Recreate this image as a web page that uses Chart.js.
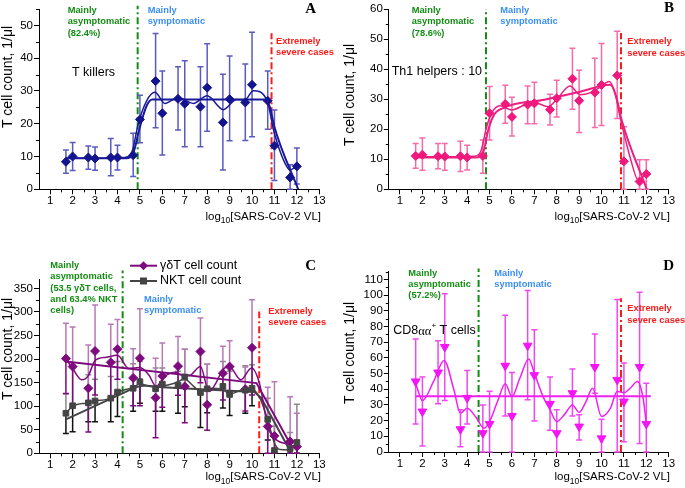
<!DOCTYPE html>
<html>
<head>
<meta charset="utf-8">
<script src="https://cdn.jsdelivr.net/npm/chart.js@4.4.1/dist/chart.umd.min.js"></script>
<style>
body { margin: 0; background: #fff; width: 685px; height: 488px; position: relative; overflow: hidden; }
canvas { position: absolute; }
</style>
</head>
<body>
<canvas id="cA" width="340" height="240" style="left:0;top:0"></canvas>
<canvas id="cB" width="345" height="240" style="left:340px;top:0"></canvas>
<canvas id="cC" width="340" height="248" style="left:0;top:240px"></canvas>
<canvas id="cD" width="345" height="248" style="left:340px;top:240px"></canvas>
<script>
// log10 viral load groups, same for all four panels
var vl = [1.7, 2, 2.7, 3, 3.7, 4, 4.7, 5, 5.7, 6, 6.7, 7, 7.7, 8, 8.7, 9, 9.7, 10, 10.7, 11, 11.7, 12];
var xTicks = [1, 2, 3, 4, 5, 6, 7, 8, 9, 10, 11, 12, 13];

// A - T killers
var killerMean = [8.4, 10.0, 9.7, 9.4, 9.7, 9.7, 10.4, 21.3, 33.0, 23.2, 27.6, 26.1, 25.2, 31.0, 20.4, 27.5, 26.5, 31.9, 27.0, 13.3, 3.6, 7.0];
var killerHi = [12.0, 14.3, 13.2, 12.9, 15.5, 13.4, 17.1, 28.7, 47.5, 36.1, 37.4, 39.2, 37.4, 44.4, 35.1, 40.7, 38.2, 47.9, 36.1, 24.2, 7.5, 12.6];
var killerLo = [4.9, 5.7, 6.1, 5.8, 4.1, 5.9, 3.9, 14.2, 18.8, 10.5, 18.1, 13.0, 13.0, 17.7, 5.9, 14.8, 14.9, 16.0, 18.3, 2.7, 0, 1.6];
var killerSplineX = [1.7, 2.5, 3.5, 4.3, 4.65, 4.93, 5.3, 5.67, 6.12, 6.71, 7.38, 8.0, 8.72, 9.31, 9.68, 10.05, 10.65, 11.0, 11.4, 11.69, 12.0];
var killerSplineY = [9.5, 9.5, 9.5, 9.7, 11.5, 20.1, 27, 29.6, 26.2, 28.0, 26.2, 28.5, 24.3, 27.4, 27.2, 30.1, 27.4, 17, 9, 5.9, 7.1];
var killerFitX = [1.7, 4.4, 4.7, 5.0, 5.3, 5.55, 10.6, 10.8, 11.0, 12.06];
var killerFitY = [9.5, 9.5, 11, 19, 25.5, 27.4, 27.4, 25, 19, 0];
var killerTicksY = [0, 10, 20, 30, 40, 50];

// B - Th1 helpers
var th1Mean = [11.1, 11.5, 11.0, 10.9, 11.0, 10.6, 11.1, 25.3, 28.4, 24.1, 28.2, 28.6, 26.5, 30.3, 36.8, 29.5, 32.2, 34.7, 37.9, 9.3, 2.6, 5.1];
var th1Hi = [15.2, 17.1, 15.2, 15.2, 16.0, 14.7, 16.4, 34.2, 34.6, 30.6, 34.4, 35.6, 31.6, 36.3, 46.9, 39.6, 43.6, 48.5, 52.6, 20.8, 9.8, 9.8];
var th1Lo = [7.0, 6.3, 6.8, 6.3, 5.9, 6.4, 5.3, 16.4, 22.0, 17.7, 21.8, 21.8, 21.4, 24.1, 26.6, 18.9, 20.6, 21.2, 23.6, 0, 0, 0];
var th1SplineX = [1.7, 2.5, 3.5, 4.3, 4.6, 4.87, 5.1, 5.47, 5.99, 6.66, 7.03, 7.62, 8.07, 8.59, 9.04, 9.49, 9.86, 10.35, 10.6, 10.86, 11.3, 11.64, 11.94];
var th1SplineY = [10.8, 10.8, 10.8, 11.0, 12.5, 20.8, 25.5, 27.8, 26.4, 28.4, 28.8, 27.5, 30.6, 34.4, 31.5, 32.1, 33.6, 35.9, 32, 23, 10, 3.1, 4.8];
var th1FitX = [1.7, 4.4, 4.7, 4.95, 5.2, 5.45, 7.5, 9.0, 10.4, 10.65, 10.9, 12.02];
var th1FitY = [10.6, 10.6, 12, 20, 24.8, 26.5, 29.9, 32.4, 34.8, 31, 23, 0];
var th1TicksY = [0, 10, 20, 30, 40, 50, 60];

// C - gamma-delta T and NKT cells
var gdMean = [201, 184, 138, 217, 193, 221, 160, 202, 118, 164, 185, 142, 216, 103, 170, 184, 136, 224, 57, 37, 25, 14];
var gdHi = [276, 268, 230, 315, 274, 284, 222, 307, 202, 234, 248, 221, 287, 189, 227, 239, 183, 326, 140, 152, 120, 85];
var gdLo = [127, 99, 45, 124, 117, 157, 101, 101, 33, 98, 123, 65, 150, 49, 113, 126, 90, 124, 0, 0, 0, 0];
var nktMean = [85, 101, 107, 111, 117, 130, 138, 152, 137, 147, 145, 162, 129, 137, 142, 125, 134, 138, 72, 6, 10, 23];
var nktHi = [126, 181, 167, 157, 163, 195, 190, 195, 181, 181, 174, 221, 215, 189, 195, 174, 186, 188, 117, 58, 44, 104];
var nktLo = [42, 46, 67, 67, 67, 78, 89, 106, 89, 89, 85, 99, 55, 86, 96, 80, 85, 101, 28, 0, 0, 0];
var gdSplineX = [1.7, 2.0, 2.4, 2.7, 3.0, 3.5, 4.0, 4.5, 5.0, 5.4, 5.72, 6.1, 6.6, 6.8, 7.2, 7.7, 8.08, 8.4, 8.69, 8.98, 9.5, 9.98, 10.35, 10.7, 11.1, 11.7, 11.8];
var gdSplineY = [200, 180, 156, 165, 197, 204, 208, 180, 182, 166, 142, 163, 172, 167, 165, 184, 131, 150, 177, 184, 156, 181, 145, 57, 28, 18, 14];
var nktSplineX = [1.7, 2.0, 2.7, 3.0, 3.7, 4.0, 4.7, 5.0, 5.5, 6.0, 6.5, 7.0, 7.4, 7.7, 8.1, 8.7, 9.0, 9.7, 10.0, 10.35, 10.68, 11.0, 11.25, 11.7];
var nktSplineY = [85, 100, 107, 111, 117, 129, 140, 147, 142, 143, 148, 157, 142, 131, 138, 135, 126, 136, 136, 117, 74, 22, 8, 7];
var gdFitX = [1.7, 10.2, 11.8];
var gdFitY = [195, 149, 12];
var nktFitX = [1.7, 4.8, 5.2, 6.0, 10.1, 10.4, 11.7];
var nktFitY = [72, 140, 144, 140, 130, 118, 5];
var cTicksY = [0, 50, 100, 150, 200, 250, 300, 350];

// D - CD8aa+ T cells
var cd8Mean = [45, 25.8, 50.7, 67, 14.5, 34.5, 12, 17.9, 55, 23, 67.8, 49, 30.7, 12, 37.5, 16.2, 54.2, 8.7, 46, 32.2, 54.2, 17.9];
var cd8Hi = [72, 47.8, 71, 101, 27, 52, 29.9, 38.8, 87.2, 50.7, 103, 78, 47.8, 26.9, 52.9, 23.7, 75.3, 20.9, 97.2, 56.7, 101.9, 43.9];
var cd8Lo = [17.9, 3.8, 30.7, 32.8, 3.4, 17.9, 0, 0, 23, 0, 33.3, 19.8, 13.9, 0, 23, 7.7, 37.5, 0, 0, 6.6, 5.5, 0];
var cd8SplineX = [1.7, 2.0, 2.5, 2.97, 3.4, 3.7, 4.0, 4.4, 4.75, 5.0, 5.35, 5.7, 6.0, 6.35, 6.75, 7.0, 7.4, 7.7, 8.0, 8.35, 8.7, 9.0, 9.3, 9.6, 10.0, 10.4, 10.7, 11.0, 11.3, 11.6, 11.85, 12.0];
var cd8SplineY = [43.9, 32.8, 45, 58.4, 40, 24.7, 27.9, 22, 15.1, 19.4, 32, 43.5, 35.4, 47, 59.3, 50.3, 35, 26.9, 19.4, 24, 30, 25.2, 32, 40.7, 22.6, 28, 38.6, 37.9, 41, 45, 35, 18.3];
var cd8FitX = [1.7, 12.2];
var cd8FitY = [35.6, 35.6];
var dTicksY = [0, 10, 20, 30, 40, 50, 60, 70, 80, 90, 100, 110];

var SANS = "'Liberation Sans', Arial, sans-serif";
var GREEN = '#138c13', BLUE = '#3a8ef5', RED = '#ff1a1a';

function pts(xs, ys) {
	return xs.map(function(x, i) { return {x: x, y: ys[i]}; });
}

function markers(ys, hi, lo, color, errHi, errLo, style, r, rot) {
	return {
		data: pts(vl, ys), hi: hi, lo: lo, errHi: errHi, errLo: errLo,
		pointStyle: style, pointRadius: r, pointRotation: rot || 0,
		backgroundColor: color, borderColor: color, borderWidth: 1, showLine: false
	};
}

function curve(xs, ys, color, w, straight) {
	return {
		data: pts(xs, ys), showLine: true, pointRadius: 0, borderColor: color,
		borderWidth: w, fill: false,
		tension: straight ? 0 : 0.4, cubicInterpolationMode: straight ? 'default' : 'monotone'
	};
}

function panelPlugin(cfg) {
	return {
		id: 'panel_' + cfg.id,
		beforeDatasetsDraw: function(chart) {
			var ctx = chart.ctx, sx = chart.scales.x, sy = chart.scales.y;
			var a = chart.chartArea;
			ctx.save();
			// minor ticks
			ctx.strokeStyle = '#000';
			ctx.lineWidth = 1;
			ctx.beginPath();
			for (var i = 0; i < xTicks.length - 1; i++) {
				var mx = Math.round(sx.getPixelForValue((xTicks[i] + xTicks[i + 1]) / 2)) + 0.5;
				ctx.moveTo(mx, a.bottom); ctx.lineTo(mx, a.bottom + 3);
			}
			var yt = cfg.yTicks, st = yt[1] - yt[0];
			for (var j = 0; j < yt.length; j++) {
				var v = yt[j] + st / 2;
				if (v > cfg.yMax) break;
				var my = Math.round(sy.getPixelForValue(v)) + 0.5;
				ctx.moveTo(a.left, my); ctx.lineTo(a.left - 3, my);
			}
			ctx.stroke();
			// dash-dot separators
			cfg.vlines.forEach(function(l) {
				var x = sx.getPixelForValue(l.x);
				ctx.beginPath();
				ctx.setLineDash([7, 3, 2, 3]);
				ctx.strokeStyle = l.color;
				ctx.lineWidth = 2;
				ctx.moveTo(x, sy.getPixelForValue(0));
				ctx.lineTo(x, sy.getPixelForValue(l.top));
				ctx.stroke();
			});
			ctx.setLineDash([]);
			// error bars
			chart.data.datasets.forEach(function(ds) {
				if (!ds.hi) return;
				ctx.lineWidth = 1.5;
				ds.data.forEach(function(p, i) {
					var x = sx.getPixelForValue(p.x), yc = sy.getPixelForValue(p.y);
					var yh = sy.getPixelForValue(ds.hi[i]), yl = sy.getPixelForValue(ds.lo[i]);
					ctx.strokeStyle = ds.errHi;
					ctx.beginPath();
					ctx.moveTo(x, yc); ctx.lineTo(x, yh);
					ctx.moveTo(x - 3, yh); ctx.lineTo(x + 3, yh);
					ctx.stroke();
					ctx.strokeStyle = ds.errLo;
					ctx.beginPath();
					ctx.moveTo(x, yc); ctx.lineTo(x, yl);
					ctx.moveTo(x - 3, yl); ctx.lineTo(x + 3, yl);
					ctx.stroke();
				});
			});
			ctx.restore();
		},
		afterDraw: function(chart) {
			var ctx = chart.ctx;
			ctx.save();
			ctx.textBaseline = 'middle';
			cfg.texts.forEach(function(t) {
				ctx.font = t.font;
				ctx.fillStyle = t.color || '#000';
				ctx.textAlign = t.align || 'left';
				ctx.fillText(t.s, t.x, t.y);
			});
			// y title
			ctx.save();
			ctx.translate(cfg.yTitle.x, cfg.yTitle.y);
			ctx.rotate(-Math.PI / 2);
			ctx.textAlign = 'center';
			ctx.fillStyle = '#000';
			ctx.font = '14px ' + SANS;
			ctx.fillText('T cell count, 1/\u03bcl', 0, 0);
			ctx.restore();
			// x title with subscript
			ctx.textAlign = 'left';
			var big = '11.5px ' + SANS, small = '8.5px ' + SANS;
			ctx.font = big;
			var w1 = ctx.measureText('log').width, w3 = ctx.measureText('[SARS-CoV-2 VL]').width;
			ctx.font = small;
			var w2 = ctx.measureText('10').width;
			var x0 = cfg.xTitle.right - w1 - w2 - w3, y0 = cfg.xTitle.y;
			ctx.font = big; ctx.fillText('log', x0, y0);
			ctx.font = small; ctx.fillText('10', x0 + w1, y0 + 4);
			ctx.font = big; ctx.fillText('[SARS-CoV-2 VL]', x0 + w1 + w2, y0);
			// legend (panel C)
			(cfg.legend || []).forEach(function(g) {
				ctx.strokeStyle = g.color;
				ctx.lineWidth = 2;
				ctx.beginPath(); ctx.moveTo(g.x, g.y); ctx.lineTo(g.x + 27, g.y); ctx.stroke();
				ctx.fillStyle = g.color;
				var cx = g.x + 13.5;
				ctx.beginPath();
				if (g.style === 'rect') {
					ctx.rect(cx - 3.5, g.y - 3.5, 7, 7);
				} else {
					ctx.moveTo(cx, g.y - 4.5); ctx.lineTo(cx + 4.5, g.y); ctx.lineTo(cx, g.y + 4.5); ctx.lineTo(cx - 4.5, g.y);
					ctx.closePath();
				}
				ctx.fill();
				ctx.fillStyle = '#000';
				ctx.font = '12.5px ' + SANS;
				ctx.fillText(g.s, g.x + 30, g.y);
			});
			// CD8aa+ label (panel D)
			if (cfg.cd8) {
				var c = cfg.cd8, px = c.x;
				ctx.fillStyle = '#000';
				ctx.font = '12.5px ' + SANS; ctx.fillText('CD8', px, c.y); px += ctx.measureText('CD8').width;
				ctx.font = '12.5px "Liberation Serif", serif'; ctx.fillText('\u03b1\u03b1', px, c.y + 1); px += ctx.measureText('\u03b1\u03b1').width;
				ctx.font = '8px ' + SANS; ctx.fillText('+', px, c.y - 5); px += ctx.measureText('+').width;
				ctx.font = '12.5px ' + SANS; ctx.fillText(' T cells', px, c.y);
			}
			ctx.restore();
		}
	};
}

function makeChart(cfg) {
	var tickFont = {family: SANS, size: 11.5};
	return new Chart(document.getElementById(cfg.id), {
		type: 'scatter',
		data: {datasets: cfg.datasets},
		options: {
			responsive: false,
			animation: false,
			events: [],
			layout: {padding: {left: 0, top: cfg.area.top, right: cfg.area.right, bottom: 0}},
			plugins: {legend: {display: false}, tooltip: {enabled: false}},
			scales: {
				x: {
					type: 'linear', min: 0.5, max: 13,
					afterBuildTicks: function(s) { s.ticks = xTicks.map(function(v) { return {value: v}; }); },
					afterFit: function(s) { s.height = cfg.area.xh; },
					grid: {drawOnChartArea: false, tickLength: 5, color: '#000'},
					border: {color: '#000', width: 1},
					ticks: {color: '#000', font: tickFont, padding: 0, maxRotation: 0, autoSkip: false}
				},
				y: {
					type: 'linear', min: 0, max: cfg.yMax,
					afterBuildTicks: function(s) { s.ticks = cfg.yTicks.map(function(v) { return {value: v}; }); },
					afterFit: function(s) { s.width = cfg.area.yw; },
					grid: {drawOnChartArea: false, tickLength: 5, color: '#000'},
					border: {color: '#000', width: 1},
					ticks: {color: '#000', font: tickFont, padding: 1, autoSkip: false}
				}
			}
		},
		plugins: [panelPlugin(cfg)]
	});
}

function notes(g, b, r, fontSize) {
	var f = 'bold ' + fontSize + 'px ' + SANS, out = [];
	g.lines.forEach(function(s, i) { out.push({s: s, x: g.x, y: g.y + i * g.dy, font: f, color: GREEN}); });
	b.lines.forEach(function(s, i) { out.push({s: s, x: b.x, y: b.y + i * b.dy, font: f, color: BLUE}); });
	r.lines.forEach(function(s, i) { out.push({s: s, x: r.x, y: r.y + i * r.dy, font: f, color: RED}); });
	return out;
}

var LETTER = 'bold 15px "Liberation Serif", "Times New Roman", serif';

makeChart({
	id: 'cA', yMax: 55, yTicks: killerTicksY,
	area: {top: 9, right: 20.7, yw: 39, xh: 50.7},
	datasets: [
		markers(killerMean, killerHi, killerLo, '#14148f', '#5a5abf', '#5a5abf', 'rectRot', 4.5),
		curve(killerSplineX, killerSplineY, '#1a1a99', 1.5),
		curve(killerFitX, killerFitY, '#1a1a99', 2)
	],
	vlines: [{x: 4.9, top: 56, color: GREEN}, {x: 10.87, top: 47.6, color: RED}],
	texts: notes(
		{x: 67.7, y: 10, dy: 11.7, lines: ['Mainly', 'asymptomatic', '(82.4%)']},
		{x: 147.7, y: 10, dy: 11.7, lines: ['Mainly', 'symptomatic']},
		{x: 276, y: 41.7, dy: 11, lines: ['Extremely', 'severe cases']}, 9.3
	).concat([
		{s: 'T killers', x: 72, y: 73, font: '12.5px ' + SANS},
		{s: 'A', x: 316, y: 9, font: LETTER, align: 'right'}
	]),
	yTitle: {x: 8.5, y: 77},
	xTitle: {right: 321, y: 216.7}
});

makeChart({
	id: 'cB', yMax: 60, yTicks: th1TicksY,
	area: {top: 9, right: 16.3, yw: 48.8, xh: 50.7},
	datasets: [
		markers(th1Mean, th1Hi, th1Lo, '#f0187c', '#f36ba8', '#f36ba8', 'rectRot', 4.5),
		curve(th1SplineX, th1SplineY, '#ec1f80', 1.5),
		curve(th1FitX, th1FitY, '#ec1f80', 2)
	],
	vlines: [{x: 4.84, top: 60, color: GREEN}, {x: 10.87, top: 52, color: RED}],
	texts: notes(
		{x: 71.7, y: 10, dy: 11.7, lines: ['Mainly', 'asymptomatic', '(78.6%)']},
		{x: 160.3, y: 10, dy: 11.7, lines: ['Mainly', 'symptomatic']},
		{x: 287.3, y: 41.7, dy: 11.6, lines: ['Extremely', 'severe cases']}, 9.3
	).concat([
		{s: 'Th1 helpers : 10', x: 51.7, y: 71.3, font: '12.5px ' + SANS},
		{s: 'B', x: 334, y: 8, font: LETTER, align: 'right'}
	]),
	yTitle: {x: 10, y: 95},
	xTitle: {right: 330, y: 216.7}
});

makeChart({
	id: 'cC', yMax: 370, yTicks: cTicksY,
	area: {top: 39, right: 20.7, yw: 39, xh: 34.7},
	datasets: [
		markers(nktMean, nktHi, nktLo, '#444444', '#8a8a8a', '#111111', 'rect', 4),
		markers(gdMean, gdHi, gdLo, '#7d0b7d', '#b77ab7', '#7d0b7d', 'rectRot', 4.5),
		curve(gdSplineX, gdSplineY, '#7d0b7d', 1.5),
		curve(nktSplineX, nktSplineY, '#444444', 1.5),
		curve(gdFitX, gdFitY, '#7d0b7d', 2, true),
		curve(nktFitX, nktFitY, '#444444', 2, true)
	],
	vlines: [{x: 4.23, top: 388, color: GREEN}, {x: 10.32, top: 301, color: RED}],
	texts: notes(
		{x: 50.3, y: 25.7, dy: 11.2, lines: ['Mainly', 'asymptomatic', '(53.5 \u03b3\u03b4T cells,', 'and 63.4% NKT', 'cells)']},
		{x: 144, y: 59, dy: 11, lines: ['Mainly', 'symptomatic']},
		{x: 268.3, y: 71, dy: 11.3, lines: ['Extremely', 'severe cases']}, 9.3
	).concat([
		{s: 'C', x: 316, y: 25.7, font: LETTER, align: 'right'}
	]),
	legend: [
		{s: '\u03b3\u03b4T cell count', x: 130, y: 25.7, color: '#7d0b7d', style: 'rectRot'},
		{s: 'NKT cell count', x: 130, y: 41, color: '#444444', style: 'rect'}
	],
	yTitle: {x: 8.5, y: 109},
	xTitle: {right: 321, y: 237.3}
});

makeChart({
	id: 'cD', yMax: 115, yTicks: dTicksY,
	area: {top: 31.7, right: 16.3, yw: 48.8, xh: 36},
	datasets: [
		markers(cd8Mean, cd8Hi, cd8Lo, '#f414f4', '#f048f0', '#f048f0', 'triangle', 5, 180),
		curve(cd8SplineX, cd8SplineY, '#f020f0', 1.5),
		curve(cd8FitX, cd8FitY, '#f020f0', 2, true)
	],
	vlines: [{x: 4.51, top: 117, color: GREEN}, {x: 10.87, top: 98, color: RED}],
	texts: notes(
		{x: 68.3, y: 33.3, dy: 11.2, lines: ['Mainly', 'asymptomatic', '(57.2%)']},
		{x: 154.3, y: 33.3, dy: 11, lines: ['Mainly', 'symptomatic']},
		{x: 287.3, y: 68.3, dy: 11.7, lines: ['Extremely', 'severe cases']}, 9.3
	).concat([
		{s: 'D', x: 334, y: 25.7, font: LETTER, align: 'right'}
	]),
	cd8: {x: 53.3, y: 90.7},
	yTitle: {x: 10, y: 113},
	xTitle: {right: 330, y: 237.3}
});
</script>
</body>
</html>
